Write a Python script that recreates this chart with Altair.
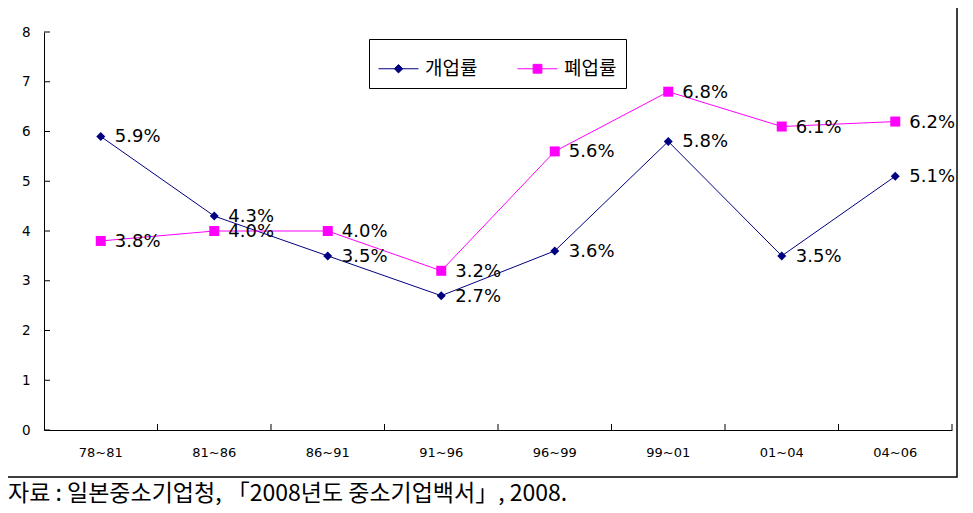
import altair as alt
import pandas as pd

# ---- data ----
periods = ["78~81", "81~86", "86~91", "91~96", "96~99", "99~01", "01~04", "04~06"]
series_names = ["개업률", "폐업률"]
open_rate = [5.9, 4.3, 3.5, 2.7, 3.6, 5.8, 3.5, 5.1]
close_rate = [3.8, 4.0, 4.0, 3.2, 5.6, 6.8, 6.1, 6.2]
y_ticks = [0, 1, 2, 3, 4, 5, 6, 7, 8]
source_text = "자료 : 일본중소기업청, 「2008년도 중소기업백서」, 2008."

# ---- styles ----
colors = ["#000080", "#FF00FF"]
marker_shapes = ["diamond", "square"]
marker_sizes = [81, 100]
legend_paths = [
    "M-1,0H1M0,-0.21L0.21,0L0,0.21L-0.21,0Z",
    "M-1,0H1M-0.22,-0.22H0.22V0.22H-0.22Z",
]

rows = []
for name, vals in zip(series_names, [open_rate, close_rate]):
    for p, v in zip(periods, vals):
        rows.append({"period": p, "series": name, "value": v})
df = pd.DataFrame(rows)

W, H = 908, 398
NUM_FONT = "DejaVu Sans"
KR_FONT = "Noto Sans CJK KR"

x_scale = alt.Scale(type="band", domain=periods, paddingInner=0, paddingOuter=0)
y_scale = alt.Scale(domain=[0, 8], nice=False, zero=True)

x_enc = alt.X(
    "period:N",
    scale=x_scale,
    axis=alt.Axis(
        title=None, ticks=False, tickSize=0, grid=False, labelPadding=16,
        labelFont=NUM_FONT, labelFontSize=13, labelColor="black",
        domainColor="black", domainWidth=1, labelAngle=0, labelAlign="center",
        labelBaseline="top",
    ),
)
y_enc = alt.Y(
    "value:Q",
    scale=y_scale,
    axis=alt.Axis(
        title=None, ticks=False, tickSize=0, grid=False, values=y_ticks,
        labelPadding=14, labelFont=NUM_FONT, labelFontSize=13.5,
        labelColor="black", domainColor="black", domainWidth=1,
    ),
)

base = alt.Chart(df)

# outer frame
frame = alt.Chart(pd.DataFrame({"k": [0]})).mark_rect(
    fillOpacity=0, stroke="black", strokeWidth=1.5
).encode(x=alt.value(-40), x2=alt.value(913), y=alt.value(-27), y2=alt.value(445))

# inward tick marks
x_ticks_layer = alt.Chart(pd.DataFrame({"period": periods})).mark_rule(
    color="black", strokeWidth=1
).encode(
    x=alt.X("period:N", scale=x_scale, bandPosition=1),
    y=alt.value(H - 6),
    y2=alt.value(H),
)
y_ticks_layer = alt.Chart(pd.DataFrame({"value": y_ticks})).mark_rule(
    color="black", strokeWidth=1
).encode(
    y=alt.Y("value:Q", scale=y_scale),
    x=alt.value(0),
    x2=alt.value(6),
)

layers = [frame, x_ticks_layer, y_ticks_layer]
for name, col, shp, sz in zip(series_names, colors, marker_shapes, marker_sizes):
    sub = base.transform_filter(alt.datum.series == name)
    layers.append(sub.mark_line(color=col, strokeWidth=1).encode(x=x_enc, y=y_enc))
    layers.append(
        sub.mark_point(shape=shp, size=sz, filled=True, color=col, opacity=1).encode(x=x_enc, y=y_enc)
    )
for name in series_names:
    sub = base.transform_filter(alt.datum.series == name)
    layers.append(
        sub.transform_calculate(label="format(datum.value, '.1f') + '%'")
        .mark_text(align="left", baseline="middle", dx=14, dy=1, font=NUM_FONT,
                   fontSize=18, color="black")
        .encode(x=x_enc, y=y_enc, text="label:N")
    )

legend = alt.Legend(
    title=None, orient="none", legendX=325, legendY=7, direction="horizontal",
    padding=9, strokeColor="black", fillColor="white", symbolSize=1600,
    symbolStrokeWidth=1, labelFont=KR_FONT, labelFontSize=19, labelColor="black",
    labelOffset=6, columnPadding=37, labelLimit=200,
)
legend_layer = base.mark_point(filled=True, size=0, opacity=1).encode(
    x=x_enc,
    y=y_enc,
    fill=alt.Fill("series:N", scale=alt.Scale(domain=series_names, range=colors), legend=legend),
    stroke=alt.Stroke("series:N", scale=alt.Scale(domain=series_names, range=colors), legend=legend),
    shape=alt.Shape("series:N", scale=alt.Scale(domain=series_names, range=legend_paths), legend=legend),
)
layers.append(legend_layer)

chart = alt.layer(*layers).properties(
    width=W,
    height=H,
    padding={"left": 36, "top": 24, "right": 13, "bottom": 75},
    autosize=alt.AutoSizeParams(type="none"),
    title=alt.TitleParams(
        text=source_text, orient="bottom", anchor="start", frame="group",
        dx=-36, offset=5, font=KR_FONT, fontSize=23, fontWeight="normal",
        color="black",
    ),
).configure_view(stroke=None)

chart.save("out.html", embed_options={"renderer": "svg", "actions": False})
